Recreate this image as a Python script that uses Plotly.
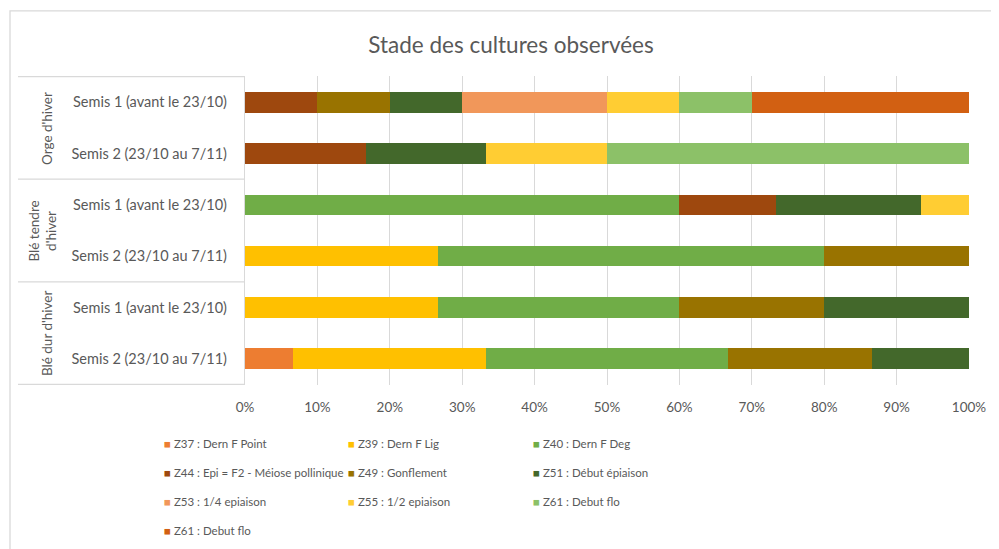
import plotly.graph_objects as go

groups = ["Orge d'hiver", "Orge d'hiver", "Blé tendre d'hiver", "Blé tendre d'hiver",
          "Blé dur d'hiver", "Blé dur d'hiver"]
semis = ["Semis 1 (avant le 23/10)", "Semis 2 (23/10 au 7/11)"] * 3
group_labels = ["Orge d'hiver", "Blé tendre<br>d'hiver", "Blé dur d'hiver"]

stage_names = ["Z37 : Dern F Point", "Z39 : Dern F Lig", "Z40 : Dern F Deg",
               "Z44 : Epi = F2 - Méiose pollinique", "Z49 : Gonflement", "Z51 : Début épiaison",
               "Z53 : 1/4 epiaison", "Z55 : 1/2 epiaison", "Z61 : Debut flo", "Z61 : Debut flo"]
stage_colors = ["#ED7D31", "#FFC000", "#70AD47", "#9E480E", "#997300", "#43682B",
                "#F1975A", "#FFCD33", "#8CC168", "#D26012"]

# number of observations per stage (row order = categories above)
z37 = [0, 0, 0, 0, 0, 1]
z39 = [0, 0, 0, 4, 4, 4]
z40 = [0, 0, 9, 8, 5, 5]
z44 = [1, 1, 2, 0, 0, 0]
z49 = [1, 0, 0, 3, 3, 3]
z51 = [1, 1, 3, 0, 3, 2]
z53 = [2, 0, 0, 0, 0, 0]
z55 = [1, 1, 1, 0, 0, 0]
z61_vert = [1, 3, 0, 0, 0, 0]
z61_orange = [3, 0, 0, 0, 0, 0]
series = [z37, z39, z40, z44, z49, z51, z53, z55, z61_vert, z61_orange]
legend_column = ["legend", "legend2", "legend3"] * 4

x_ticks = [0, 10, 20, 30, 40, 50, 60, 70, 80, 90, 100]
x_tick_text = [f"{v}%" for v in x_ticks]

keys = [f"{g}|{s}" for g, s in zip(groups, semis)]

FONT = "Lato"
GREY = "#595959"
LINE = "#D9D9D9"

fig = go.Figure()
for i, (name, col, vals) in enumerate(zip(stage_names, stage_colors, series)):
    fig.add_trace(go.Bar(
        y=keys, x=vals, name=name, orientation="h",
        marker=dict(color=col, line=dict(width=0)),
        showlegend=False, legendgroup=f"g{i}",
    ))
# legend entries (Excel-style small square key drawn as a coloured glyph)
for i, (name, col) in enumerate(zip(stage_names, stage_colors)):
    fig.add_trace(go.Scatter(
        x=[None], y=[None], mode="markers",
        marker=dict(color="rgba(0,0,0,0)", size=0, line=dict(width=0)),
        name=f"<span style='color:{col}'>■</span> {name}",
        legend=legend_column[i], legendgroup=f"g{i}", hoverinfo="skip",
    ))

W, H = 999, 549
OFF = 8  # page body margin: screenshot px = figure px + OFF
PL, PR, PT, PB = 245, 969, 76, 389  # plot area in screenshot px
ML = PL - OFF
MR = W - (PR - OFF)
MT = PT - OFF
MB = H - (PB - OFF)
pw = PR - PL
ph = PB - PT


def px_x(p):
    return (p - PL) / pw


def px_y(p):
    return (PB - p) / ph


shapes = []
# chart border
shapes.append(dict(type="rect", xref="paper", yref="paper",
                   x0=px_x(10), x1=px_x(1015), y0=px_y(570), y1=px_y(10),
                   line=dict(color=LINE, width=1.3), layer="below"))
# group separators
for yv in [-0.5, 1.5, 3.5, 5.5]:
    shapes.append(dict(type="line", xref="paper", yref="y", x0=px_x(18), x1=0,
                       y0=yv, y1=yv, line=dict(color=LINE, width=1.3)))

annotations = []
label_shift = [0, -5, 0]
for gi, gl in enumerate(group_labels):
    annotations.append(dict(text=gl, xref="paper", yref="y", x=px_x(47), y=gi * 2 + 0.5,
                            xanchor="center", yanchor="middle", xshift=label_shift[gi],
                            showarrow=False, textangle=-90,
                            font=dict(family=FONT, size=13.5, color=GREY)))

leg_common = dict(orientation="v", yanchor="top", xanchor="left", traceorder="grouped",
                  tracegroupgap=10, itemwidth=30, font=dict(family=FONT, size=11.5, color=GREY),
                  bgcolor="rgba(0,0,0,0)", itemclick=False, itemdoubleclick=False)
ly = px_y(434)

fig.update_layout(
    width=W, height=H,
    margin=dict(l=ML, r=MR, t=MT, b=MB),
    paper_bgcolor="white", plot_bgcolor="white",
    barmode="stack", barnorm="percent", bargap=0.6,
    title=dict(text="Stade des cultures observées", x=(511 - OFF) / W, y=1 - (45 - OFF) / H,
               xanchor="center", yanchor="middle",
               font=dict(family=FONT, size=22.5, color=GREY)),
    xaxis=dict(range=[0, 100], tickmode="array", tickvals=x_ticks, ticktext=x_tick_text,
               showgrid=True, gridcolor=LINE, gridwidth=1.3, zeroline=False, showline=False,
               tickfont=dict(family=FONT, size=13.5, color=GREY), ticklabelstandoff=12,
               fixedrange=True),
    yaxis=dict(categoryorder="array", categoryarray=keys, tickvals=keys, ticktext=semis,
               autorange="reversed", showline=True, linecolor=LINE, linewidth=1.3,
               showgrid=False, ticks="", ticklabelstandoff=14,
               tickfont=dict(family=FONT, size=14.5, color=GREY), fixedrange=True),
    legend=dict(x=px_x(124), y=ly, **leg_common),
    legend2=dict(x=px_x(308), y=ly, **leg_common),
    legend3=dict(x=px_x(493), y=ly, **leg_common),
    shapes=shapes, annotations=annotations,
)

fig.write_html("out.html")
